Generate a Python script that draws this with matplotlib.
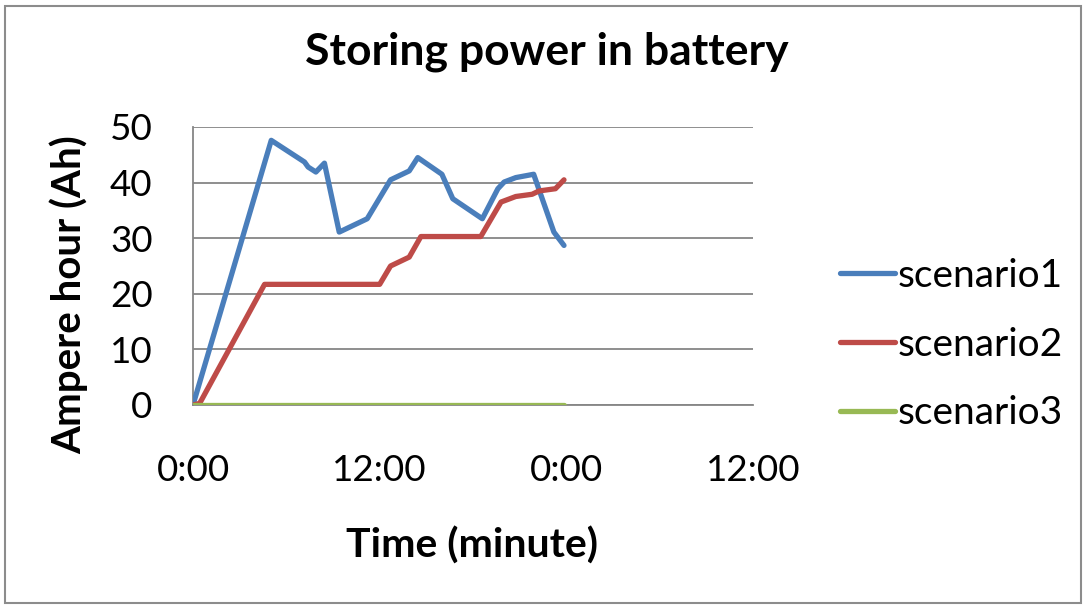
import numpy as np
import matplotlib
matplotlib.use("Agg")
import matplotlib.pyplot as plt
from matplotlib.patches import Rectangle
from matplotlib.ticker import FixedLocator, FuncFormatter

plt.rcParams['font.family'] = ['Lato', 'DejaVu Sans']

# elapsed time in hours, battery charge in Ah
t_s1 = [0, 5.03, 7.17, 7.4, 7.9, 8.45, 9.4, 11.2, 12.7, 13.9, 14.45, 16.0,
        16.7, 18.6, 19.6, 20.0, 20.75, 21.9, 23.2, 23.85]
ah_s1 = [0, 47.6, 43.7, 42.8, 41.9, 43.5, 31.1, 33.5, 40.5, 42.1, 44.5, 41.5,
         37.1, 33.5, 38.9, 40.1, 40.9, 41.5, 31.1, 28.7]

t_s2 = [0, 0.43, 4.6, 12.0, 12.7, 13.9, 14.65, 18.5, 19.8, 20.75, 21.8,
        22.25, 23.3, 23.85]
ah_s2 = [0, 0.3, 21.7, 21.7, 25.0, 26.6, 30.3, 30.3, 36.5, 37.5, 37.9,
         38.5, 38.9, 40.5]

t_s3 = [0, 23.85]
ah_s3 = [0, 0]

names = ['scenario1', 'scenario2', 'scenario3']
colors = ['#4A7EBB', '#BE4B48', '#98B954']

W, H = 1087, 605
fig = plt.figure(figsize=(W / 100, H / 100), dpi=100)
ax = fig.add_axes([193 / W, 1 - 405 / H, 560 / W, 278 / H])

for t, v, name, c in zip([t_s1, t_s2, t_s3], [ah_s1, ah_s2, ah_s3], names, colors):
    ax.plot(t, v, color=c, lw=3.8, label=name,
            solid_capstyle='round', solid_joinstyle='round', zorder=3)

ax.set_xlim(0, 36)
ax.set_ylim(0, 50)
ax.xaxis.set_major_locator(FixedLocator([0, 12, 24, 36]))
ax.xaxis.set_major_formatter(FuncFormatter(lambda h, p: '%d:00' % (int(round(h)) % 24)))
ax.set_yticks(range(0, 51, 10))

grid_c = '#868686'
ax.yaxis.grid(True, color=grid_c, lw=1.3)
ax.set_axisbelow(True)
for s in ['top', 'right']:
    ax.spines[s].set_visible(False)
for s in ['left', 'bottom']:
    ax.spines[s].set_color(grid_c)
    ax.spines[s].set_linewidth(1.3)
ax.tick_params(axis='both', length=0, labelsize=26.5, colors='black')
ax.tick_params(axis='y', pad=29)
ax.tick_params(axis='x', pad=35)

fig.text(547 / W, 1 - 65 / H, 'Storing power in battery', ha='center',
         va='baseline', fontsize=32, fontweight='bold')
fig.text(472 / W, 1 - 558 / H, 'Time (minute)', ha='center', va='baseline',
         fontsize=29.5, fontweight='bold')
fig.text(69 / W, 1 - 295 / H, 'Ampere hour (Ah)', ha='center', va='center',
         rotation=90, fontsize=29, fontweight='bold')

fig.legend(loc='upper left', bbox_to_anchor=(840 / W, 1 - 258 / H),
           frameon=False, fontsize=28, handlelength=1.41, handletextpad=0.08,
           labelspacing=0.84, borderaxespad=0, borderpad=0)

# chart border
fig.add_artist(Rectangle((5 / W, 1 - 603 / H), 1076 / W, 597 / H,
                         transform=fig.transFigure, fill=False,
                         edgecolor='#8c8c8c', lw=1.5))

fig.savefig('out.png', dpi=100)
